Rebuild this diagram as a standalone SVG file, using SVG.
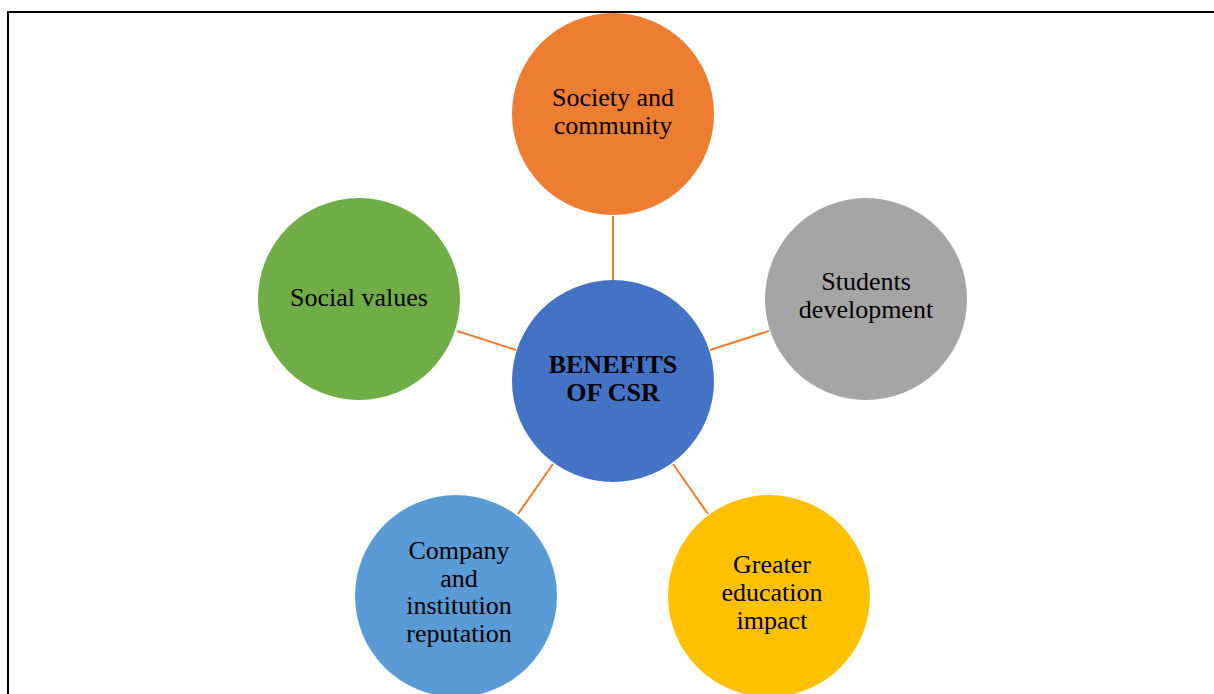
<svg xmlns="http://www.w3.org/2000/svg" width="1214" height="694" viewBox="0 0 1214 694">
<style>
text{font-family:"Liberation Serif","Times New Roman",serif;font-size:26px;fill:#000;text-anchor:middle}
.b{font-weight:bold}
.c{stroke:#ED7D31;stroke-width:2;fill:none}
</style>
<rect x="0" y="0" width="1214" height="694" fill="#fff"/>
<rect x="8" y="12" width="1220" height="700" fill="none" stroke="#000" stroke-width="2"/>
<g id="connectors">
<line class="c" x1="613" y1="216" x2="613" y2="280"/>
<line class="c" x1="457" y1="331" x2="516" y2="350"/>
<line class="c" x1="710" y1="350" x2="769" y2="331"/>
<line class="c" x1="518" y1="514" x2="553" y2="464"/>
<line class="c" x1="673" y1="464" x2="708" y2="514"/>
</g>
<g id="center">
<circle cx="613" cy="381" r="101" fill="#4472C4"/>
<text class="b" x="613" y="373">BENEFITS</text>
<text class="b" x="613" y="401">OF CSR</text>
</g>
<g id="society">
<circle cx="613" cy="114" r="101" fill="#ED7D31"/>
<text x="613" y="106">Society and</text>
<text x="613" y="134">community</text>
</g>
<g id="social">
<circle cx="359" cy="299" r="101" fill="#70AD47"/>
<text x="359" y="306">Social values</text>
</g>
<g id="students">
<circle cx="866" cy="299" r="101" fill="#A5A5A5"/>
<text x="866" y="290">Students</text>
<text x="866" y="318">development</text>
</g>
<g id="company">
<circle cx="456" cy="596" r="101" fill="#5B9BD5"/>
<text x="459" y="559">Company</text>
<text x="459" y="587">and</text>
<text x="459" y="614">institution</text>
<text x="459" y="642">reputation</text>
</g>
<g id="greater">
<circle cx="769" cy="596" r="101" fill="#FFC000"/>
<text x="772" y="573">Greater</text>
<text x="772" y="601">education</text>
<text x="772" y="629">impact</text>
</g>
</svg>
